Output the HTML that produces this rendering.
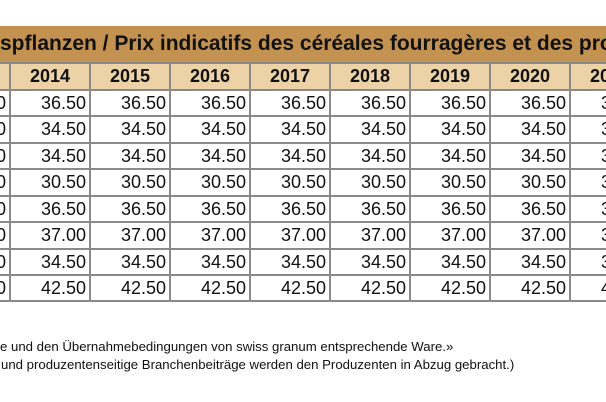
<!DOCTYPE html>
<html><head><meta charset="utf-8"><style>
body{margin:0;width:606px;height:402px;overflow:hidden;background:#fff;font-family:"Liberation Sans",Arial,sans-serif;position:relative}
.t{position:absolute;left:0;top:26px;width:606px;height:36px;background:#c39250;font-weight:bold;font-size:21px;line-height:36px;white-space:nowrap;overflow:hidden;color:#111}
#tbl{position:absolute;left:0;top:0;width:606px;height:402px;overflow:hidden}
.c{position:absolute;box-sizing:border-box;border:1px solid #8a8a8a;overflow:hidden;white-space:nowrap;color:#111}
.h{background:#ecd2a6;font-weight:bold;font-size:18px;text-align:center;line-height:25px}
.d{background:#fff;font-size:18px;text-align:right;line-height:25px;padding-right:3px}
.f{position:absolute;left:0;font-size:13.2px;white-space:nowrap;color:#111}
</style></head><body>
<div class="t">spflanzen / Prix indicatifs des céréales fourragères et des pro</div>
<div id="tbl"></div>
<div class="f" style="top:339px">e und den Übernahmebedingungen von swiss granum entsprechende Ware.»</div>
<div class="f" style="top:357px;left:1px">und produzentenseitige Branchenbeiträge werden den Produzenten in Abzug gebracht.)</div>
<script>
const years=["2013","2014","2015","2016","2017","2018","2019","2020","2021"];
const rowValues=["36.50","34.50","34.50","30.50","36.50","37.00","34.50","42.50"];
const tbl=document.getElementById('tbl');
const x0=-69,cw=80,hTop=62,rh=26.5;
function cell(cls,x,y,w,h,txt){
  const d=document.createElement('div');
  d.className='c '+cls;
  d.style.cssText=`left:${x}px;top:${y}px;width:${w}px;height:${h}px;border-width:2px 2px 0 0`;
  d.textContent=txt;
  tbl.appendChild(d);return d;
}
years.forEach((y,i)=>{
  const e=cell('h',x0+i*cw,hTop,cw,rh+1,y);
  
  
});
rowValues.forEach((v,r)=>{
  years.forEach((y,i)=>{
    const e=cell('d',x0+i*cw,hTop+(r+1)*rh,cw,rh+1,v);
    if(r===rowValues.length-1)e.style.borderBottomWidth='2px';
    
    
  });
});
</script>
</body></html>
